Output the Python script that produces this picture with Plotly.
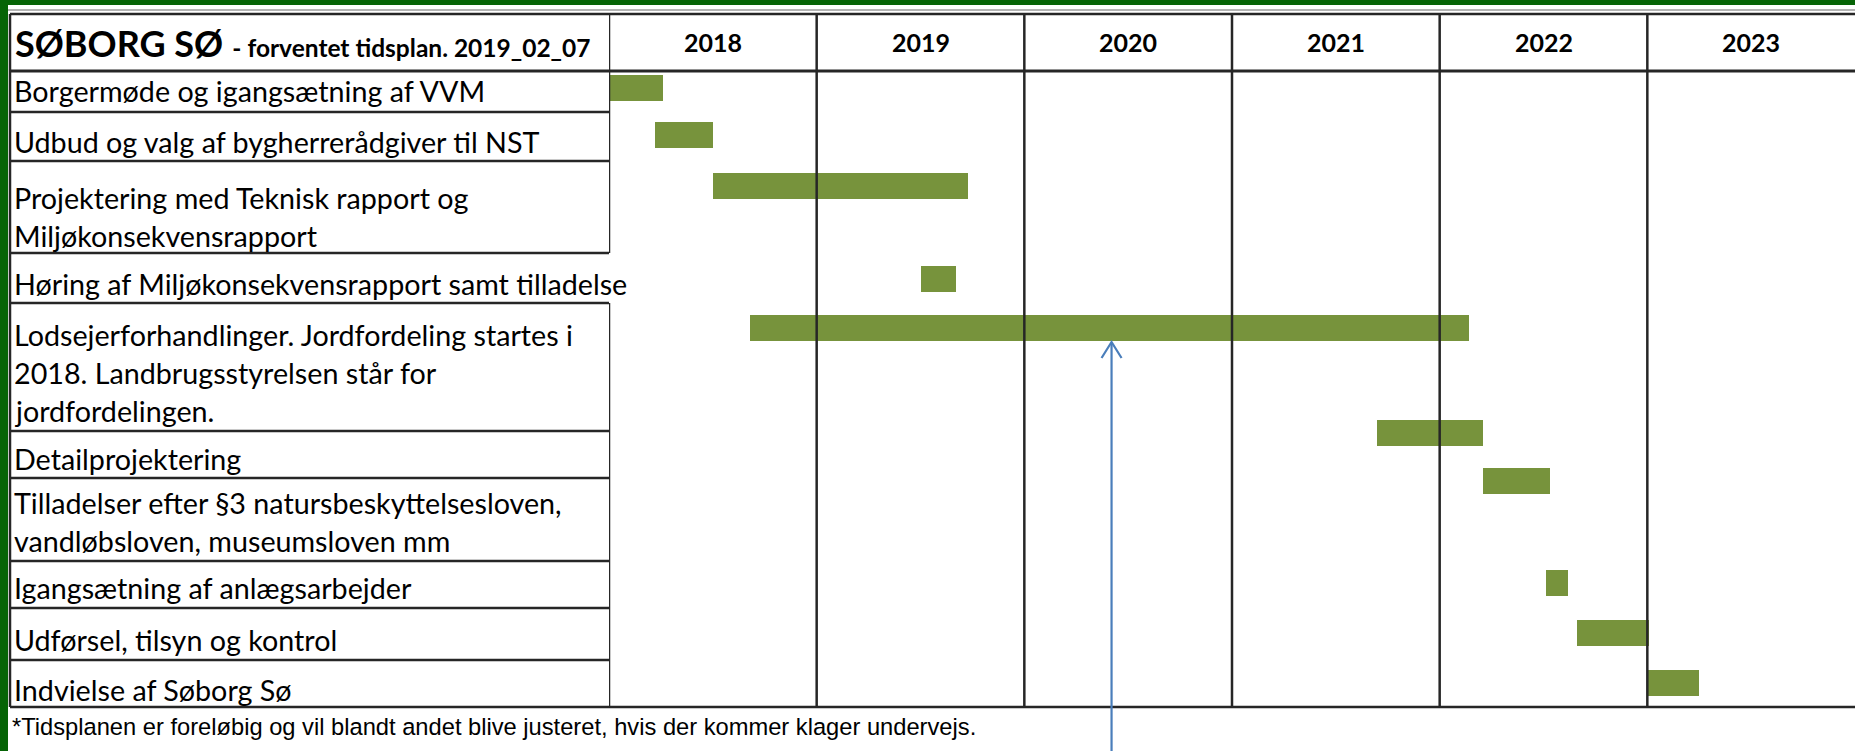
import plotly.graph_objects as go

# ---------------- data ----------------
tasks = [
    "Borgermøde og igangsætning af VVM",
    "Udbud og valg af bygherrerådgiver til NST",
    "Projektering med Teknisk rapport og\nMiljøkonsekvensrapport",
    "Høring af Miljøkonsekvensrapport samt tilladelse",
    "Lodsejerforhandlinger. Jordfordeling startes i\n2018. Landbrugsstyrelsen står for\njordfordelingen.",
    "Detailprojektering",
    "Tilladelser efter §3 natursbeskyttelsesloven,\nvandløbsloven, museumsloven mm",
    "Igangsætning af anlægsarbejder",
    "Udførsel, tilsyn og kontrol",
    "Indvielse af Søborg Sø",
]
start_year = [2018.00, 2018.22, 2018.50, 2019.50, 2018.68, 2021.70, 2022.21, 2022.51, 2022.66, 2023.00]
end_year = [2018.26, 2018.50, 2019.73, 2019.67, 2022.14, 2022.21, 2022.53, 2022.62, 2023.01, 2023.25]
year_labels = ["2018", "2019", "2020", "2021", "2022", "2023"]
marker_year = 2020.42
title_main = "SØBORG SØ"
title_sub = "- forventet tidsplan. 2019_02_07"
footnote = "*Tidsplanen er foreløbig og vil blandt andet blive justeret, hvis der kommer klager undervejs."

# ---------------- layout constants (pixels) ----------------
W, H = 1855, 751
LABEL_LEFT = 10
LABEL_RIGHT = 609
TABLE_TOP = 14
HEADER_BOTTOM = 71
row_bounds = [71, 112, 161, 253, 303, 431, 478, 561, 608, 660, 707]
bar_center_px = [87.5, 135, 186, 279, 328, 432.5, 480.5, 583, 632.5, 683]
label_first_px = [91, 142, 198, 284, 335, 459, 503, 588, 640, 690]
LINE_GAP = 38
BAR_H = 26
GREEN = "#066406"
BAR_COLOR = "#77933C"
LINE_COLOR = "#262626"
LABEL_FONT = dict(family="Lato", size=28.7, color="black")

fig = go.Figure()

durations = [e - s for s, e in zip(start_year, end_year)]
fig.add_trace(go.Bar(
    y=bar_center_px, x=durations, base=start_year, orientation="h",
    width=BAR_H, marker=dict(color=BAR_COLOR, line=dict(width=0)),
    hoverinfo="skip", showlegend=False,
))

shapes = []
def px(x):
    return x / W

# green frame (top and left)
shapes.append(dict(type="rect", xref="paper", yref="paper", x0=0, x1=1, y0=1 - 5 / H, y1=1,
                   fillcolor=GREEN, line=dict(width=0), layer="above"))
shapes.append(dict(type="rect", xref="paper", yref="paper", x0=0, x1=px(8), y0=0, y1=1,
                   fillcolor=GREEN, line=dict(width=0), layer="above"))
# light grey line under the green band
shapes.append(dict(type="line", xref="paper", yref="y", x0=px(8), x1=1, y0=10, y1=10,
                   line=dict(color="#b4b4b4", width=2)))

# full-width horizontal lines
for yv, w in [(TABLE_TOP, 2.5), (HEADER_BOTTOM, 3), (row_bounds[-1], 2.5)]:
    shapes.append(dict(type="line", xref="paper", yref="y", x0=px(LABEL_LEFT), x1=1, y0=yv, y1=yv,
                       line=dict(color=LINE_COLOR, width=w)))
# label column horizontal lines
for yv in row_bounds[1:-1]:
    shapes.append(dict(type="line", xref="paper", yref="y", x0=px(LABEL_LEFT), x1=px(LABEL_RIGHT),
                       y0=yv, y1=yv, line=dict(color=LINE_COLOR, width=2.5)))
# left border
shapes.append(dict(type="line", xref="paper", yref="y", x0=px(LABEL_LEFT), x1=px(LABEL_LEFT),
                   y0=TABLE_TOP, y1=row_bounds[-1], line=dict(color=LINE_COLOR, width=2.5)))
# label column right border (gap at row 4, where text overflows)
shapes.append(dict(type="line", xref="x", yref="y", x0=2018, x1=2018, y0=TABLE_TOP, y1=row_bounds[3],
                   line=dict(color=LINE_COLOR, width=2.5)))
shapes.append(dict(type="line", xref="x", yref="y", x0=2018, x1=2018, y0=row_bounds[4], y1=row_bounds[-1],
                   line=dict(color=LINE_COLOR, width=2.5)))
# year separators
for i in range(1, len(year_labels)):
    yr = int(year_labels[0]) + i
    shapes.append(dict(type="line", xref="x", yref="y", x0=yr, x1=yr, y0=TABLE_TOP, y1=row_bounds[-1],
                       line=dict(color=LINE_COLOR, width=2.5)))

# blue arrow
ARROW_TIP = 342
shapes.append(dict(type="line", xref="x", yref="y", xsizemode="pixel", xanchor=marker_year,
                   x0=0, x1=0, y0=H, y1=ARROW_TIP + 1, line=dict(color="#4A7EBB", width=2.2)))
shapes.append(dict(type="path", xref="x", yref="y", xsizemode="pixel", xanchor=marker_year,
                   path=f"M -10,{ARROW_TIP + 16} L 0,{ARROW_TIP} L 10,{ARROW_TIP + 16}",
                   line=dict(color="#4A7EBB", width=2.2)))

annotations = []
# title
annotations.append(dict(
    xref="paper", yref="y", x=px(13), y=43, xanchor="left", yanchor="middle", showarrow=False,
    text=f"<b>{title_main}</b> <b><span style='font-size:24.5px'>{title_sub}</span></b>",
    font=dict(family="Lato", size=36, color="black"),
))
# year headers
for i, lab in enumerate(year_labels):
    annotations.append(dict(
        xref="x", yref="y", x=int(lab) + 0.5, y=42, xanchor="center", yanchor="middle", showarrow=False,
        text=f"<b>{lab}</b>", font=dict(family="Lato", size=25, color="black"),
    ))
# task labels
for t, y0 in zip(tasks, label_first_px):
    for j, line in enumerate(t.split("\n")):
        annotations.append(dict(
            xref="paper", yref="y", x=px(12), y=y0 + j * LINE_GAP, xanchor="left", yanchor="middle",
            showarrow=False, text=line, font=LABEL_FONT,
        ))
# footnote
annotations.append(dict(
    xref="paper", yref="y", x=px(10), y=727, xanchor="left", yanchor="middle", showarrow=False,
    text=footnote, font=dict(family="Liberation Sans", size=23.7, color="black"),
))

fig.update_layout(
    width=W, height=H, autosize=False,
    margin=dict(l=0, r=0, t=0, b=0, pad=0),
    paper_bgcolor="white", plot_bgcolor="white",
    xaxis=dict(domain=[LABEL_RIGHT / W, 1], range=[2018, 2024], showgrid=False, zeroline=False,
               showticklabels=False, ticks="", showline=False, fixedrange=True),
    yaxis=dict(domain=[0, 1], range=[H, 0], showgrid=False, zeroline=False,
               showticklabels=False, ticks="", showline=False, fixedrange=True),
    shapes=shapes, annotations=annotations, bargap=0, showlegend=False,
)

fig.write_html(
    "out.html",
    config={"displayModeBar": False},
    post_script="document.body.style.margin='0';document.body.style.overflow='hidden';",
)
